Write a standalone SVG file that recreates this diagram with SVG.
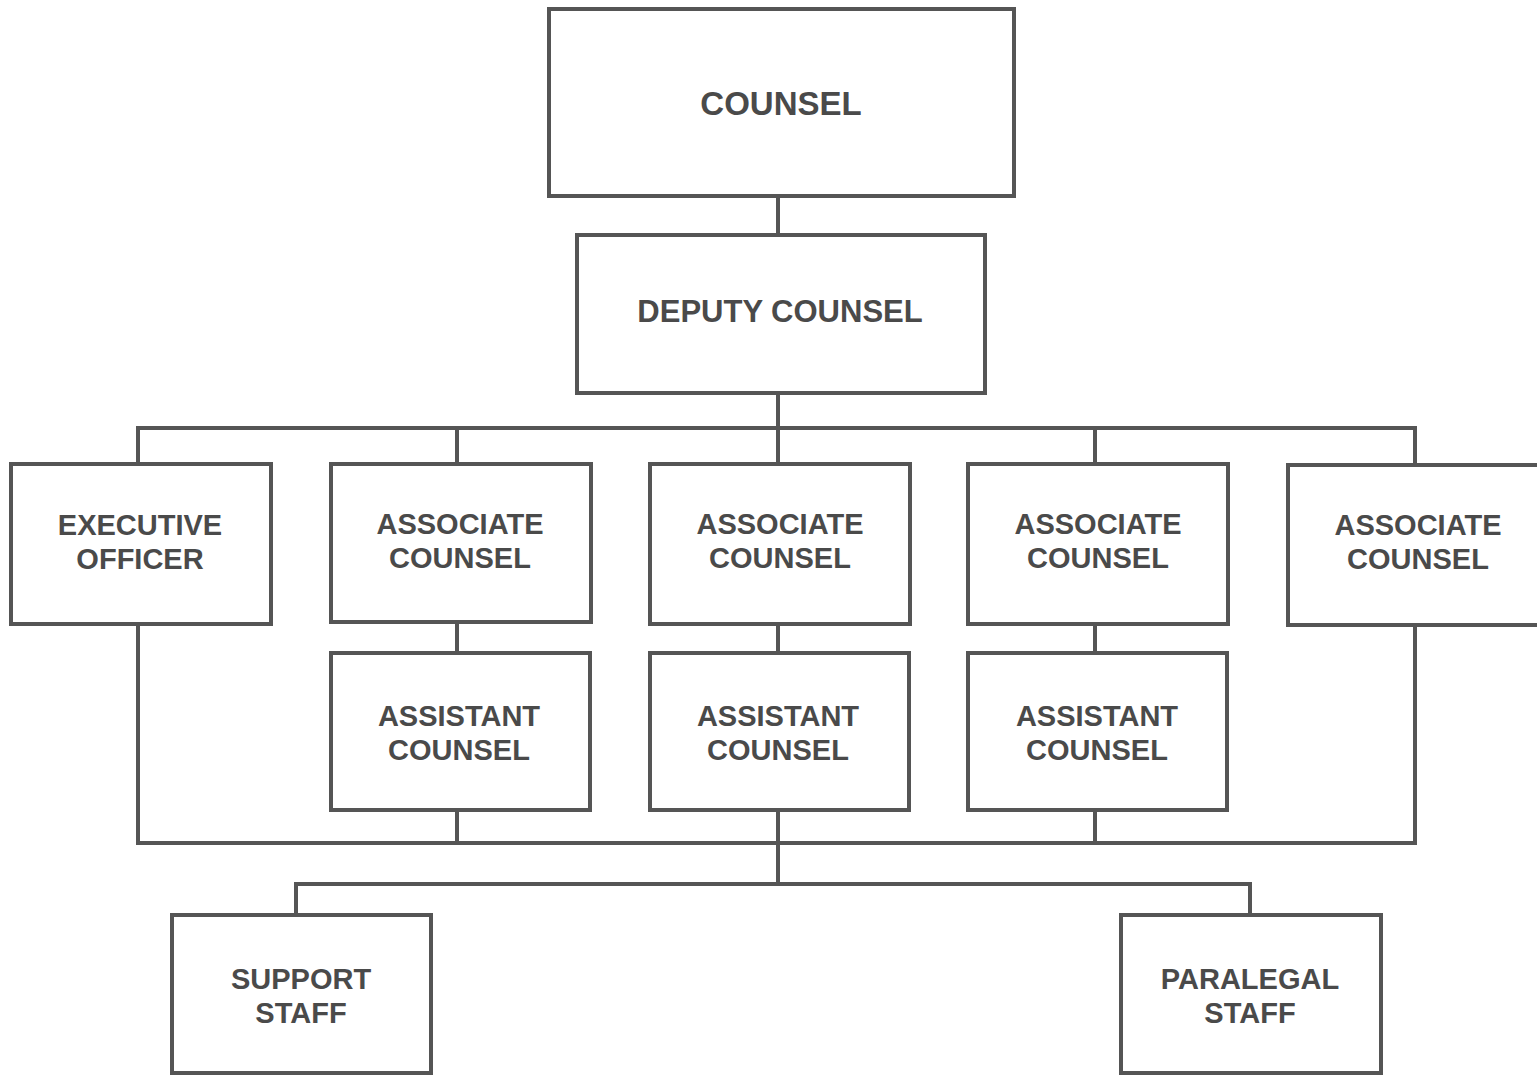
<svg xmlns="http://www.w3.org/2000/svg" width="1537" height="1075" viewBox="0 0 1537 1075">
<style>
.box{fill:none;stroke:#555;stroke-width:4}
.ln{fill:none;stroke:#555;stroke-width:4;stroke-linejoin:miter}
text{font-family:"Liberation Sans",Arial,sans-serif;font-weight:bold;fill:#4a4a4a;text-anchor:middle}
.s{font-size:29px}
</style>
<rect width="1537" height="1075" fill="#fff"/>
<g id="connectors">
<path class="ln" d="M778 196V234M778 393V428M138 463V428H1415V465M457 428V463M778 428V463M1095 428V463"/>
<path class="ln" d="M138 624V843H1415V625M457 622V652M778 624V652M1095 624V652M457 810V843M778 810V843M1095 810V843"/>
<path class="ln" d="M778 843V884M296 914V884H1250V914"/>
</g>
<g id="counsel"><rect class="box" x="549" y="9" width="465" height="187"/><text x="781" y="115" font-size="33">COUNSEL</text></g>
<g id="deputy"><rect class="box" x="577" y="235" width="408" height="158"/><text x="780" y="322" font-size="31">DEPUTY COUNSEL</text></g>
<g id="exec"><rect class="box" x="11" y="464" width="260" height="160"/><text class="s" x="140" y="535">EXECUTIVE</text><text class="s" x="140" y="569">OFFICER</text></g>
<g id="assoc1"><rect class="box" x="331" y="464" width="260" height="158"/><text class="s" x="460" y="534">ASSOCIATE</text><text class="s" x="460" y="568">COUNSEL</text></g>
<g id="assoc2"><rect class="box" x="650" y="464" width="260" height="160"/><text class="s" x="780" y="534">ASSOCIATE</text><text class="s" x="780" y="568">COUNSEL</text></g>
<g id="assoc3"><rect class="box" x="968" y="464" width="260" height="160"/><text class="s" x="1098" y="534">ASSOCIATE</text><text class="s" x="1098" y="568">COUNSEL</text></g>
<g id="assoc4"><rect class="box" x="1288" y="465" width="262" height="160"/><text class="s" x="1418" y="535">ASSOCIATE</text><text class="s" x="1418" y="569">COUNSEL</text></g>
<g id="asst1"><rect class="box" x="331" y="653" width="259" height="157"/><text class="s" x="459" y="726">ASSISTANT</text><text class="s" x="459" y="760">COUNSEL</text></g>
<g id="asst2"><rect class="box" x="650" y="653" width="259" height="157"/><text class="s" x="778" y="726">ASSISTANT</text><text class="s" x="778" y="760">COUNSEL</text></g>
<g id="asst3"><rect class="box" x="968" y="653" width="259" height="157"/><text class="s" x="1097" y="726">ASSISTANT</text><text class="s" x="1097" y="760">COUNSEL</text></g>
<g id="support"><rect class="box" x="172" y="915" width="259" height="158"/><text class="s" x="301" y="989">SUPPORT</text><text class="s" x="301" y="1023">STAFF</text></g>
<g id="paralegal"><rect class="box" x="1121" y="915" width="260" height="158"/><text class="s" x="1250" y="989">PARALEGAL</text><text class="s" x="1250" y="1023">STAFF</text></g>
</svg>
